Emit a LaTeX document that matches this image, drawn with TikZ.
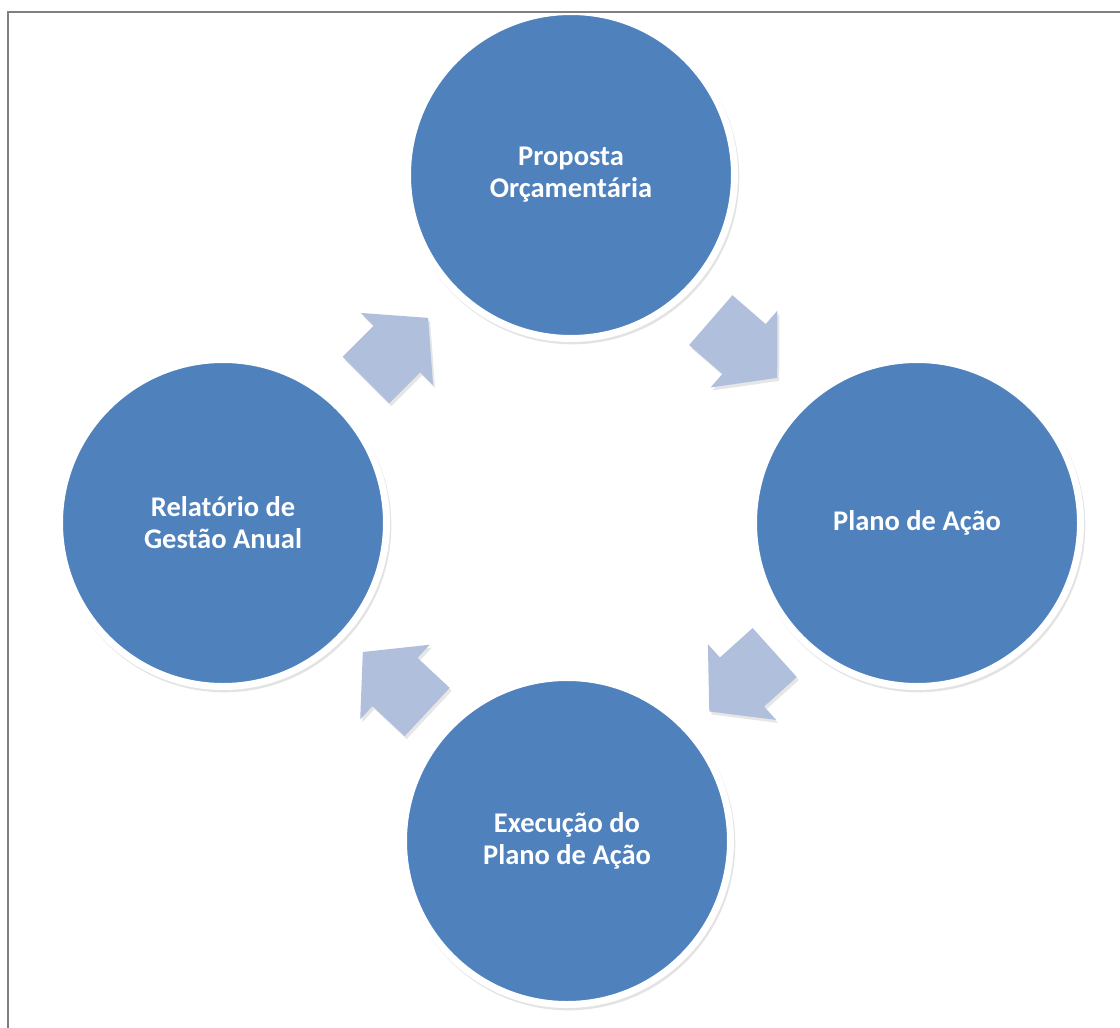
\documentclass[tikz,border=0pt]{standalone}
\usepackage{fontspec}
\setmainfont{Carlito}
\usetikzlibrary{calc,shadows}
\definecolor{ciclo}{RGB}{79,129,189}
\definecolor{seta}{RGB}{176,192,220}
\tikzset{
  etapa/.style={circle, fill=ciclo, draw=white, line width=7pt, minimum size=327pt, inner sep=0pt,
    text=white, align=center, font=\fontsize{28.5}{32}\selectfont\bfseries,
    drop shadow={shadow xshift=1.5pt, shadow yshift=-2.5pt, opacity=0.22, shadow scale=1.02}},
  pics/seta/.style={code={
    \fill[seta, drop shadow={shadow xshift=2pt, shadow yshift=-3pt, opacity=0.2}]
      (-44,-33) -- (0,-33) -- (0,-51) -- (44,0) -- (0,51) -- (0,33) -- (-44,33) -- cycle;
  }}
}
\begin{document}
\begin{tikzpicture}[x=1pt, y=-1pt]
\useasboundingbox (0,0) rectangle (1120,1028);

\node[etapa] (proposta) at (571,175) {Proposta\\Orçamentária};
\node[etapa] (plano) at (917,523) {Plano de Ação};
\node[etapa] (execucao) at (567,841) {Execução do\\Plano de Ação};
\node[etapa] (relatorio) at (223,523) {Relatório de\\Gestão Anual};

\coordinate (s1) at ($(proposta)!0.5!(plano)$);
\coordinate (s2) at ($(plano)!0.5!(execucao)$);
\coordinate (s3) at ($(execucao)!0.5!(relatorio)$);
\coordinate (s4) at ($(relatorio)!0.5!(proposta)$);

\path (s1) pic[rotate=-41] {seta};
\path (s2) pic[rotate=-138] {seta};
\path (s3) pic[rotate=137] {seta};
\path (s4) pic[rotate=45] {seta};

\draw[gray, line width=2.5pt] (8,1028) -- (8,12) -- (1120,12);
\end{tikzpicture}
\end{document}
